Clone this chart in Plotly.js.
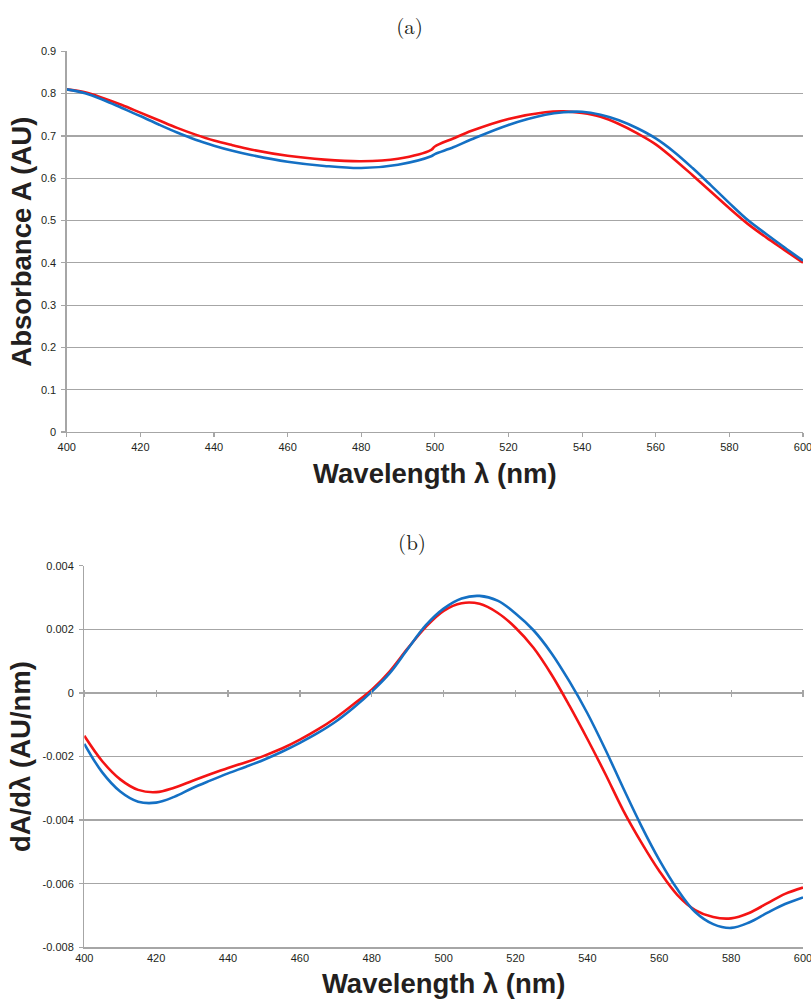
<!DOCTYPE html>
<html>
<head>
<meta charset="utf-8">
<script src="https://cdn.plot.ly/plotly-3.0.1.min.js"></script>
<style>html,body{margin:0;padding:0;background:#fff;}#chart{width:811px;height:1001px;}</style>
</head>
<body>
<div id="chart"></div>
<script>
// ---- Panel (a): absorbance ----
const wavelengthA = [400,405,410,415,420,425,430,435,440,445,450,460,470,480,490,499,500,505,510,520,530,535,540,545,550,555,560,565,570,575,580,585,590,595,600];
const absorbanceRed = [0.810,0.803,0.789,0.773,0.755,0.737,0.719,0.703,0.689,0.678,0.668,0.653,0.644,0.640,0.646,0.667,0.675,0.694,0.712,0.740,0.756,0.758,0.754,0.745,0.728,0.706,0.680,0.645,0.607,0.568,0.529,0.492,0.460,0.430,0.400];
const absorbanceBlue = [0.810,0.801,0.785,0.766,0.747,0.727,0.708,0.691,0.677,0.665,0.655,0.639,0.629,0.624,0.632,0.652,0.657,0.673,0.692,0.726,0.750,0.756,0.757,0.750,0.737,0.718,0.694,0.662,0.624,0.583,0.541,0.501,0.468,0.436,0.405];

// ---- Panel (b): derivative ----
const wavelengthB = [400,405,410,415,420,425,430,435,440,445,450,455,460,465,470,475,480,485,490,495,500,505,510,515,520,525,530,535,540,545,550,555,560,565,570,575,580,585,590,595,600];
const derivRed = [-0.00135,-0.00215,-0.00272,-0.00305,-0.00312,-0.00298,-0.00277,-0.00256,-0.00236,-0.00218,-0.00198,-0.00175,-0.00147,-0.00115,-0.00078,-0.00035,0.00010,0.00068,0.00140,0.00207,0.00258,0.00282,0.00280,0.00252,0.00205,0.00142,0.00058,-0.00040,-0.00145,-0.00255,-0.00370,-0.00470,-0.00560,-0.00635,-0.00683,-0.00705,-0.00709,-0.00692,-0.00662,-0.00632,-0.00612];
const derivBlue = [-0.00160,-0.00250,-0.00310,-0.00342,-0.00345,-0.00327,-0.00300,-0.00276,-0.00253,-0.00232,-0.00210,-0.00185,-0.00157,-0.00126,-0.00090,-0.00046,0.00004,0.00062,0.00138,0.00212,0.00265,0.00297,0.00305,0.00290,0.00250,0.00197,0.00125,0.00036,-0.00064,-0.00178,-0.00300,-0.00418,-0.00525,-0.00617,-0.00689,-0.00727,-0.00739,-0.00722,-0.00692,-0.00664,-0.00643];

// ---- tick labels ----
const xTickVals = [400,420,440,460,480,500,520,540,560,580,600];
const yTickValsA = [0,0.1,0.2,0.3,0.4,0.5,0.6,0.7,0.8,0.9];
const yTickTextA = ['0','0.1','0.2','0.3','0.4','0.5','0.6','0.7','0.8','0.9'];
const yTickValsB = [-0.008,-0.006,-0.004,-0.002,0,0.002,0.004];
const yTickTextB = ['-0.008','-0.006','-0.004','-0.002','0','0.002','0.004'];

const RED = '#f41414';
const BLUE = '#1470c4';
const GRID = '#a6a6a6';
const TXT = '#231f20';
const tickFont = {family: '"Liberation Sans", Arial, sans-serif', size: 11, color: TXT};
const titleFont = {family: '"Liberation Sans", Arial, sans-serif', size: 27.5, color: TXT, weight: 'bold'};
const serifFont = {family: '"Latin Modern Roman", "Liberation Serif", "DejaVu Serif", serif', size: 21, color: TXT};

const H = 1001;
const domXA = [66.7/811, 803/811];
const domYA = [1-432/H, 1-51.3/H];
const domXB = [84.3/811, 803/811];
const domYB = [1-947.3/H, 1-565.7/H];
const rangeB = [-0.008, 0.004];
// paper position of the y=0 line in panel (b), from the axis scale
const zeroPos = domYB[0] + (0 - rangeB[0])/(rangeB[1]-rangeB[0])*(domYB[1]-domYB[0]);

const lineStyle = (c) => ({color: c, width: 2.6, shape: 'spline', smoothing: 1});

const traces = [
  {x: wavelengthA, y: absorbanceRed, xaxis: 'x', yaxis: 'y', mode: 'lines', line: lineStyle(RED), hoverinfo: 'skip'},
  {x: wavelengthA, y: absorbanceBlue, xaxis: 'x', yaxis: 'y', mode: 'lines', line: lineStyle(BLUE), hoverinfo: 'skip'},
  {x: wavelengthB, y: derivRed, xaxis: 'x2', yaxis: 'y2', mode: 'lines', line: lineStyle(RED), hoverinfo: 'skip'},
  {x: wavelengthB, y: derivBlue, xaxis: 'x3', yaxis: 'y2', mode: 'lines', line: lineStyle(BLUE), hoverinfo: 'skip'}
];

const layout = {
  width: 811, height: 1001,
  margin: {l: 0, r: 0, t: 0, b: 0},
  paper_bgcolor: '#fff', plot_bgcolor: '#fff',
  showlegend: false,
  title: {text: '(a)', x: 0.505, xanchor: 'center', y: 1-27/H, yanchor: 'middle', font: serifFont},
  xaxis: {
    domain: domXA, anchor: 'y', range: [400, 600], tickvals: xTickVals, showgrid: false, zeroline: false,
    showline: true, linecolor: GRID, linewidth: 1.3, ticks: 'outside', ticklen: 4, tickcolor: GRID, tickwidth: 1.2,
    tickfont: tickFont, ticklabeloverflow: 'allow', fixedrange: true,
    title: {text: 'Wavelength λ (nm)', font: titleFont, standoff: 12}
  },
  yaxis: {
    domain: domYA, anchor: 'x', range: [0, 0.9], tickvals: yTickValsA, ticktext: yTickTextA,
    showgrid: true, gridcolor: GRID, gridwidth: 1.2, zeroline: false,
    showline: true, linecolor: GRID, linewidth: 1.3, ticks: 'outside', ticklen: 4, tickcolor: GRID, tickwidth: 1.2,
    tickfont: tickFont, ticklabelstandoff: 3, fixedrange: true,
    title: {text: 'Absorbance A (AU)', font: titleFont, standoff: 1}
  },
  // tick marks crossing the zero line of panel (b)
  xaxis2: {
    domain: domXB, anchor: 'free', position: zeroPos + 3.5/H, side: 'bottom',
    range: [400, 600], tickvals: xTickVals, showticklabels: false, showgrid: false, zeroline: false,
    showline: false, ticks: 'outside', ticklen: 7, tickcolor: GRID, tickwidth: 1.2, fixedrange: true
  },
  // bottom axis of panel (b): line, labels and title
  xaxis3: {
    overlaying: 'x2', anchor: 'y2', side: 'bottom', domain: domXB,
    range: [400, 600], tickvals: xTickVals, showgrid: false, zeroline: false,
    showline: true, linecolor: GRID, linewidth: 1.3, ticks: '', tickfont: tickFont, ticklabeloverflow: 'allow',
    fixedrange: true,
    title: {text: 'Wavelength λ (nm)', font: titleFont, standoff: 11}
  },
  yaxis2: {
    domain: domYB, anchor: 'x3', range: rangeB, tickvals: yTickValsB, ticktext: yTickTextB,
    showgrid: true, gridcolor: GRID, gridwidth: 1.2, zeroline: false,
    showline: true, linecolor: GRID, linewidth: 1.3, ticks: 'outside', ticklen: 4, tickcolor: GRID, tickwidth: 1.2,
    tickfont: tickFont, ticklabelstandoff: 3, fixedrange: true,
    title: {text: 'dA/dλ (AU/nm)', font: titleFont, standoff: 4}
  },
  annotations: [
    {text: '(b)', xref: 'paper', yref: 'paper', x: 0.508, y: 1-541/H, xanchor: 'center', yanchor: 'middle',
     showarrow: false, font: serifFont}
  ]
};

Plotly.newPlot('chart', traces, layout, {staticPlot: true, displayModeBar: false});
</script>
</body>
</html>
